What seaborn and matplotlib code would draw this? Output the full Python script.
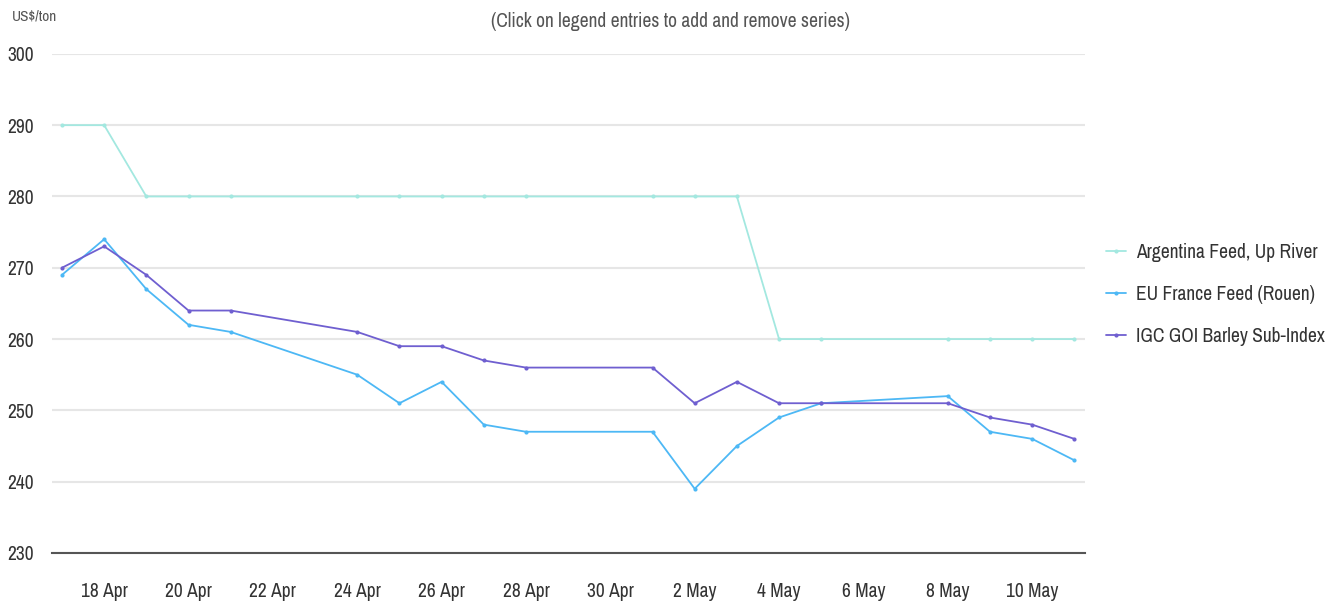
import matplotlib
matplotlib.use("Agg")
import matplotlib.pyplot as plt
import matplotlib.dates as mdates
from matplotlib.ticker import FuncFormatter
import seaborn as sns
import pandas as pd

# price data, US$/ton
dates = ["2023-04-17", "2023-04-18", "2023-04-19", "2023-04-20", "2023-04-21",
         "2023-04-24", "2023-04-25", "2023-04-26", "2023-04-27", "2023-04-28",
         "2023-05-01", "2023-05-02", "2023-05-03", "2023-05-04", "2023-05-05",
         "2023-05-08", "2023-05-09", "2023-05-10", "2023-05-11"]
argentina = [290, 290, 280, 280, 280, 280, 280, 280, 280, 280,
             280, 280, 280, 260, 260, 260, 260, 260, 260]
eu_france = [269, 274, 267, 262, 261, 255, 251, 254, 248, 247,
             247, 239, 245, 249, 251, 252, 247, 246, 243]
igc_barley = [270, 273, 269, 264, 264, 261, 259, 259, 257, 256,
              256, 251, 254, 251, 251, 251, 249, 248, 246]
series_names = ["Argentina Feed, Up River", "EU France Feed (Rouen)", "IGC GOI Barley Sub-Index"]
colors = ["#a3e8e0", "#4db8f5", "#6f5fd0"]

rows = []
for name, vals in zip(series_names, [argentina, eu_france, igc_barley]):
    for d, v in zip(dates, vals):
        rows.append({"date": pd.Timestamp(d), "price": v, "series": name})
df = pd.DataFrame(rows)

sns.set_theme(style="white")
plt.rcParams["font.family"] = ["Archivo Narrow", "Liberation Sans", "DejaVu Sans"]

fig = plt.figure(figsize=(13.41, 6.05), dpi=100)
ax = fig.add_axes([0.039, 0.086, 0.770, 0.825])

sns.lineplot(data=df, x="date", y="price", hue="series", palette=colors,
             hue_order=series_names, marker="o", markersize=3, markeredgewidth=0,
             linewidth=1.3, ax=ax)

ax.set_ylim(230, 300)
ax.set_yticks(range(230, 301, 10))
ax.set_xlim(pd.Timestamp("2023-04-16 18:30"), pd.Timestamp("2023-05-11 06:00"))
ax.xaxis.set_major_locator(mdates.DayLocator(bymonthday=range(2, 32, 2)))
ax.xaxis.set_major_formatter(FuncFormatter(
    lambda v, p: "{} {}".format(mdates.num2date(v).day, mdates.num2date(v).strftime("%b"))))

ax.grid(axis="y", color="#e6e6e6", linewidth=1.5)
ax.set_axisbelow(True)
for s in ["top", "right", "left"]:
    ax.spines[s].set_visible(False)
ax.spines["bottom"].set_color("#555555")
ax.spines["bottom"].set_linewidth(1.5)
ax.tick_params(axis="x", length=11, width=1.2, color="#555555", labelsize=14,
               labelcolor="#333333", pad=10)
ax.tick_params(axis="y", length=0, labelsize=14, labelcolor="#333333", pad=13)
ax.set_xlabel("")
ax.set_ylabel("")

fig.text(0.009, 0.972, "US$/ton", fontsize=11, color="#555555", ha="left", va="center")
fig.text(0.5, 0.965, "(Click on legend entries to add and remove series)",
         fontsize=14, color="#555555", ha="center", va="center")

ax.legend(loc="center left", bbox_to_anchor=(1.004, 0.518), frameon=False,
          fontsize=14, handlelength=1.0, labelspacing=1.2, handletextpad=0.5,
          labelcolor="#333333")

fig.savefig("out.png", dpi=100)
